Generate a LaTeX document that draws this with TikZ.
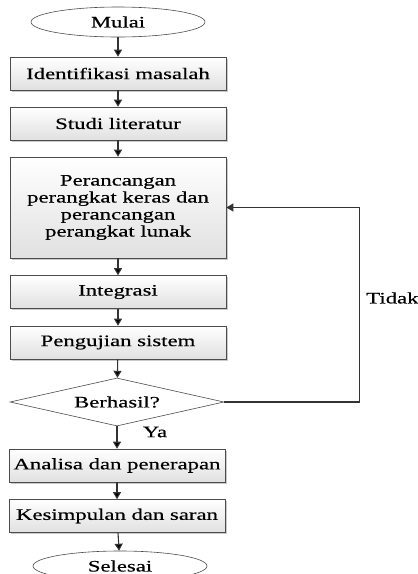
\documentclass[tikz,border=0pt]{standalone}
\usepackage{fontspec}
\setmainfont[FakeStretch=1.42,FakeBold=0.35]{Liberation Serif}
\usetikzlibrary{shapes.geometric,arrows.meta,shadows}

\begin{document}
\begin{tikzpicture}[
  x=1pt, y=-1pt, % pixel units, y downwards
  >={Triangle[length=7pt,width=8pt]}, % arrow head style
  font=\fontsize{16}{17}\selectfont,
  semithick % line style
  ]

  \tikzstyle{proses}=[
    draw = black!70,
    top color = white,
    bottom color = black!12,
    drop shadow = {shadow xshift=1.5pt, shadow yshift=-1.5pt, fill=black!35, opacity=.6},
    minimum width = 216pt,
    minimum height = 33pt,
    align = center,
    inner sep = 0pt
  ]
  \tikzstyle{terminal}=[
    shape = ellipse,
    draw = black!70,
    fill = white,
    minimum width = 174pt,
    minimum height = 30pt,
    inner sep = 0pt
  ]
  \tikzstyle{alur}=[draw = black!80, line width = 1.1pt]

\useasboundingbox (0,0) rectangle (418,574);

\node[terminal] (mulai) at (118,22) {Mulai};
\node[proses] (identifikasi) at (118,73.5) {Identifikasi masalah};
\node[proses] (studi) at (118,123.5) {Studi literatur};
\node[proses, minimum height=101pt] (rancang) at (118,207.5) {Perancangan\\perangkat keras dan\\perancangan\\perangkat lunak};
\node[proses] (integrasi) at (118,292) {Integrasi};
\node[proses] (uji) at (118,342.5) {Pengujian sistem};
\node[shape=diamond, draw=black!70, fill=white, aspect=4.4, inner sep=0pt,
      minimum width=214pt, minimum height=48pt] (cek) at (117,402) {Berhasil?};
\node[proses] (analisa) at (117,465.5) {Analisa dan penerapan};
\node[proses] (kesimpulan) at (117,516) {Kesimpulan dan saran};
\node[terminal] (selesai) at (120,566) {Selesai};
\node[anchor=west, inner sep=0pt] (tidak) at (366,298) {Tidak};
\node[inner sep=0pt] (ya) at (155,432) {Ya};

 \path [->, alur] (mulai) edge (identifikasi);
 \path [->, alur] (identifikasi) edge (studi);
 \path [->, alur] (studi) edge (rancang);
 \path [->, alur] (rancang) edge (integrasi);
 \path [->, alur] (integrasi) edge (uji);
 \path [->, alur] (uji) edge (cek);
 \path [->, alur] (cek) edge (analisa);
 \path [->, alur] (analisa) edge (kesimpulan);
 \path [->, alur] (kesimpulan) edge (selesai);
 \draw [->, alur] (cek.east) -- ++(135,0) |- (rancang.east);
\end{tikzpicture}
\end{document}
